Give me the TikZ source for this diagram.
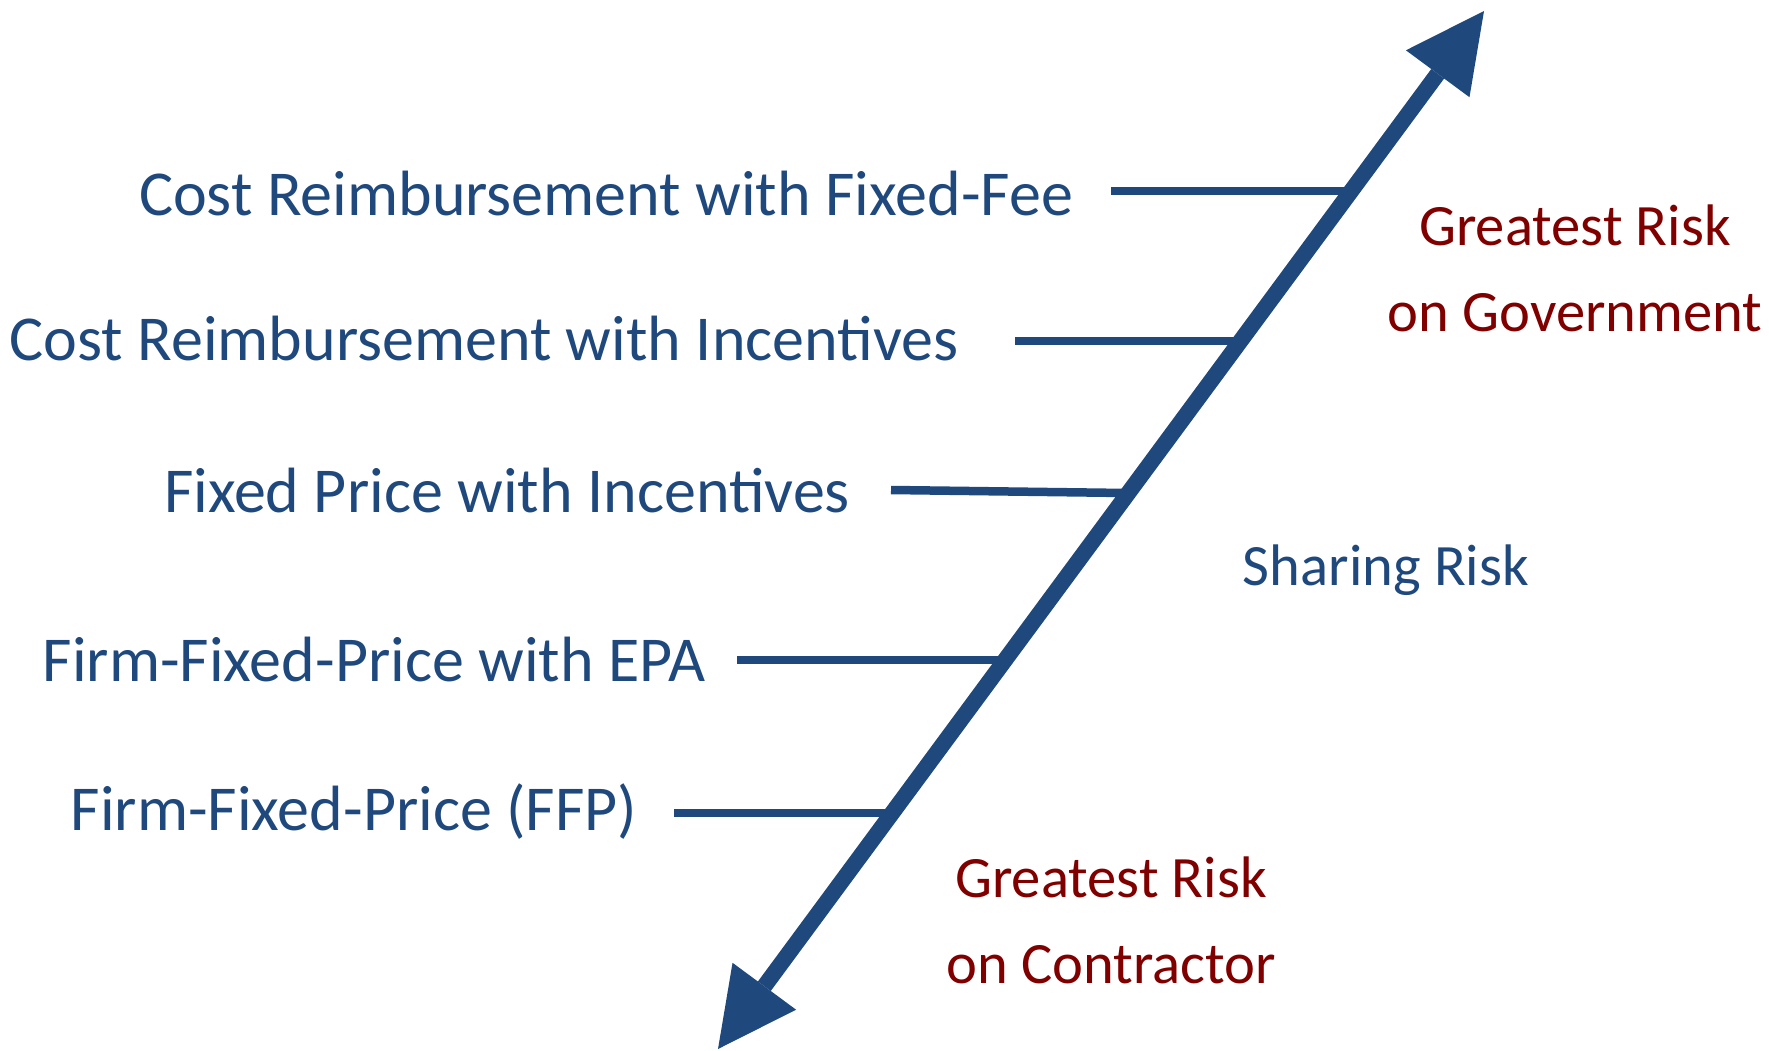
\documentclass[tikz,border=0pt]{standalone}
\usepackage{fontspec}
\setmainfont{Carlito}
\usetikzlibrary{arrows.meta}
\definecolor{navy}{HTML}{1F497D}
\definecolor{maroon}{HTML}{800000}
\tikzset{
  lbl/.style={text=navy, font=\fontsize{64}{76}\selectfont, inner sep=0pt, anchor=center},
  side/.style={text=navy, font=\fontsize{58.6}{70}\selectfont, inner sep=0pt, anchor=center},
  risk/.style={text=maroon, font=\fontsize{58.6}{86}\selectfont, inner sep=0pt, align=center, anchor=center},
  tick/.style={draw=navy, line width=8.5pt},
  axis/.style={draw=navy, line width=16pt, {Triangle[length=78pt,width=79pt,line width=0pt]}-{Triangle[length=78pt,width=79pt,line width=0pt]}}
}
\begin{document}
\begin{tikzpicture}[x=1pt,y=-1pt]
\useasboundingbox (0,0) rectangle (1769,1051);
\coordinate (bot) at (718,1049);
\coordinate (top) at (1484,11);
\draw[axis] (bot) -- (top);

\node[lbl] (t1) at (606,194) {Cost Reimbursement with Fixed-Fee};
\node[lbl] (t2) at (484,339) {Cost Reimbursement with Incentives};
\node[lbl] (t3) at (507,491) {Fixed Price with Incentives};
\node[lbl] (t4) at (374,660) {Firm-Fixed-Price with EPA};
\node[lbl] (t5) at (354,812) {Firm-Fixed-Price (FFP)};

\coordinate (s1) at (1111,191); \coordinate (e1) at (1350,191);
\coordinate (s2) at (1015,341); \coordinate (e2) at (1240,341);
\coordinate (s3) at (891,490);  \coordinate (e3) at (1126,493);
\coordinate (s4) at (737,660);  \coordinate (e4) at (1005,660);
\coordinate (s5) at (674,813);  \coordinate (e5) at (892,813);
\draw[tick] (s1) -- (e1);
\draw[tick] (s2) -- (e2);
\draw[tick] (s3) -- (e3);
\draw[tick] (s4) -- (e4);
\draw[tick] (s5) -- (e5);

\node[risk] (gov) at (1575,268) {Greatest Risk\\on Government};
\node[side] (share) at (1386,570) {Sharing Risk};
\node[risk] (con) at (1111,920) {Greatest Risk\\on Contractor};
\end{tikzpicture}
\end{document}
